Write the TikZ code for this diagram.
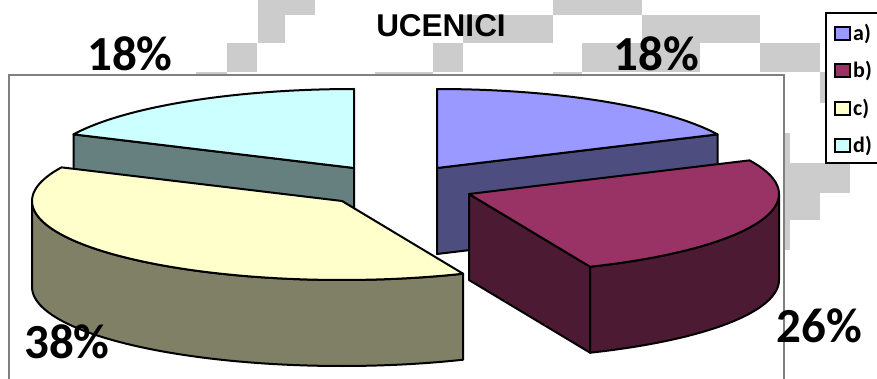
\documentclass[tikz,border=0pt]{standalone}
\usepackage{fontspec}
\setmainfont{Carlito}
\newfontfamily\titlefont{Liberation Sans}
\definecolor{aTop}{HTML}{9999FF}
\definecolor{aSide}{HTML}{4D4D80}
\definecolor{bTop}{HTML}{993366}
\definecolor{bSide}{HTML}{4D1A33}
\definecolor{cTop}{HTML}{FFFFCC}
\definecolor{cSide}{HTML}{808066}
\definecolor{dTop}{HTML}{CCFFFF}
\definecolor{dSide}{HTML}{668080}
\definecolor{bgGray}{HTML}{CCCCCC}
\definecolor{frameGray}{HTML}{808080}
\tikzset{
  pieface/.style={draw=black, line width=2pt, line join=round},
  block/.style={fill=bgGray, draw=none},
  pct/.style={font=\bfseries\fontsize{49}{49}\selectfont, anchor=base, inner sep=0pt},
  legsq/.style={draw=black, line width=2pt, minimum width=15pt, minimum height=13pt, inner sep=0pt},
  legtxt/.style={font=\bfseries\fontsize{22}{22}\selectfont, anchor=base west, inner sep=0pt}
}
\begin{document}
\begin{tikzpicture}[x=1pt,y=-1pt]
\useasboundingbox (0,0) rectangle (877,379);
\clip (0,0) rectangle (877,379);
% background checker blocks
\fill[block] (258,0) rectangle (315,15);
\fill[block] (258,15) rectangle (285,43);
\fill[block] (227,43) rectangle (257,72);
\fill[block] (433,43) rectangle (463,72);
\fill[block] (463,15) rectangle (553,43);
\fill[block] (553,0) rectangle (642,15);
\fill[block] (642,15) rectangle (760,43);
\fill[block] (582,43) rectangle (700,72);
\fill[block] (760,43) rectangle (820,72);
\fill[block] (820,72) rectangle (850,103);
\fill[block] (850,103) rectangle (877,133);
\fill[block] (784,133) rectangle (790,250);
\fill[block] (790,163) rectangle (850,193);
\fill[block] (790,193) rectangle (820,220);
\fill[block] (196,72) rectangle (227,74);
\fill[block] (375,72) rectangle (433,74);
\fill[block] (553,72) rectangle (582,74);
% plot frame
\draw[frameGray, line width=1.5pt] (9,400) -- (9,75) -- (784,75) -- (784,400);
% slice d
\filldraw[pieface, fill=dSide] (73.5,134.4) -- (354,168) -- (354,254) -- (73.5,220.4) -- cycle;
\filldraw[pieface, fill=dTop] (354,168) -- plot[domain=90:154.8, samples=50] ({354+310*cos(\x)},{168-79*sin(\x)}) -- cycle;
% slice a
\filldraw[pieface, fill=aSide] (437,168) -- (717.5,134.4) -- (717.5,220.4) -- (437,254) -- cycle;
\filldraw[pieface, fill=aTop] (437,168) -- plot[domain=25.2:90, samples=50] ({437+310*cos(\x)},{168-79*sin(\x)}) -- cycle;
% slice c
\filldraw[pieface, fill=cSide] plot[domain=180:293, samples=70] ({342+310*cos(\x)},{201-79*sin(\x)}) -- plot[domain=293:180, samples=70] ({342+310*cos(\x)},{287-79*sin(\x)}) -- cycle;
\filldraw[pieface, fill=cTop] (342,201) -- plot[domain=154.8:293, samples=80] ({342+310*cos(\x)},{201-79*sin(\x)}) -- cycle;
% slice b
\filldraw[pieface, fill=bSide] (469,194) -- ({469+310*cos(-67)},{194-79*sin(-67)}) -- ({469+310*cos(-67)},{280-79*sin(-67)}) -- (469,280) -- cycle;
\filldraw[pieface, fill=bSide] plot[domain=-67:0, samples=50] ({469+310*cos(\x)},{194-79*sin(\x)}) -- plot[domain=0:-67, samples=50] ({469+310*cos(\x)},{280-79*sin(\x)}) -- cycle;
\filldraw[pieface, fill=bTop] (469,194) -- plot[domain=-67:25.2, samples=70] ({469+310*cos(\x)},{194-79*sin(\x)}) -- cycle;
% title and labels
\node[anchor=base, inner sep=0pt, font=\titlefont\bfseries\fontsize{31.5}{31.5}\selectfont] (title) at (441,37) {UCENICI};
\node[pct] (pd) at (130,71) {18\%};
\node[pct] (pa) at (656,71) {18\%};
\node[pct] (pb) at (819,342) {26\%};
\node[pct] (pc) at (67,358) {38\%};
% legend
\draw[black, line width=1.8pt, fill=white] (825.7,13.3) rectangle (890,163);
\node[legsq, fill=aTop] (la) at (842,34) {};
\node[legsq, fill=bTop] (lb) at (842,71) {};
\node[legsq, fill=cTop] (lc) at (842,108.5) {};
\node[legsq, fill=dTop] (ld) at (842,146) {};
\node[legtxt] (ta) at (853,41) {a)};
\node[legtxt] (tb) at (853,78) {b)};
\node[legtxt] (tc) at (853,115.5) {c)};
\node[legtxt] (td) at (853,153) {d)};
\end{tikzpicture}
\end{document}
